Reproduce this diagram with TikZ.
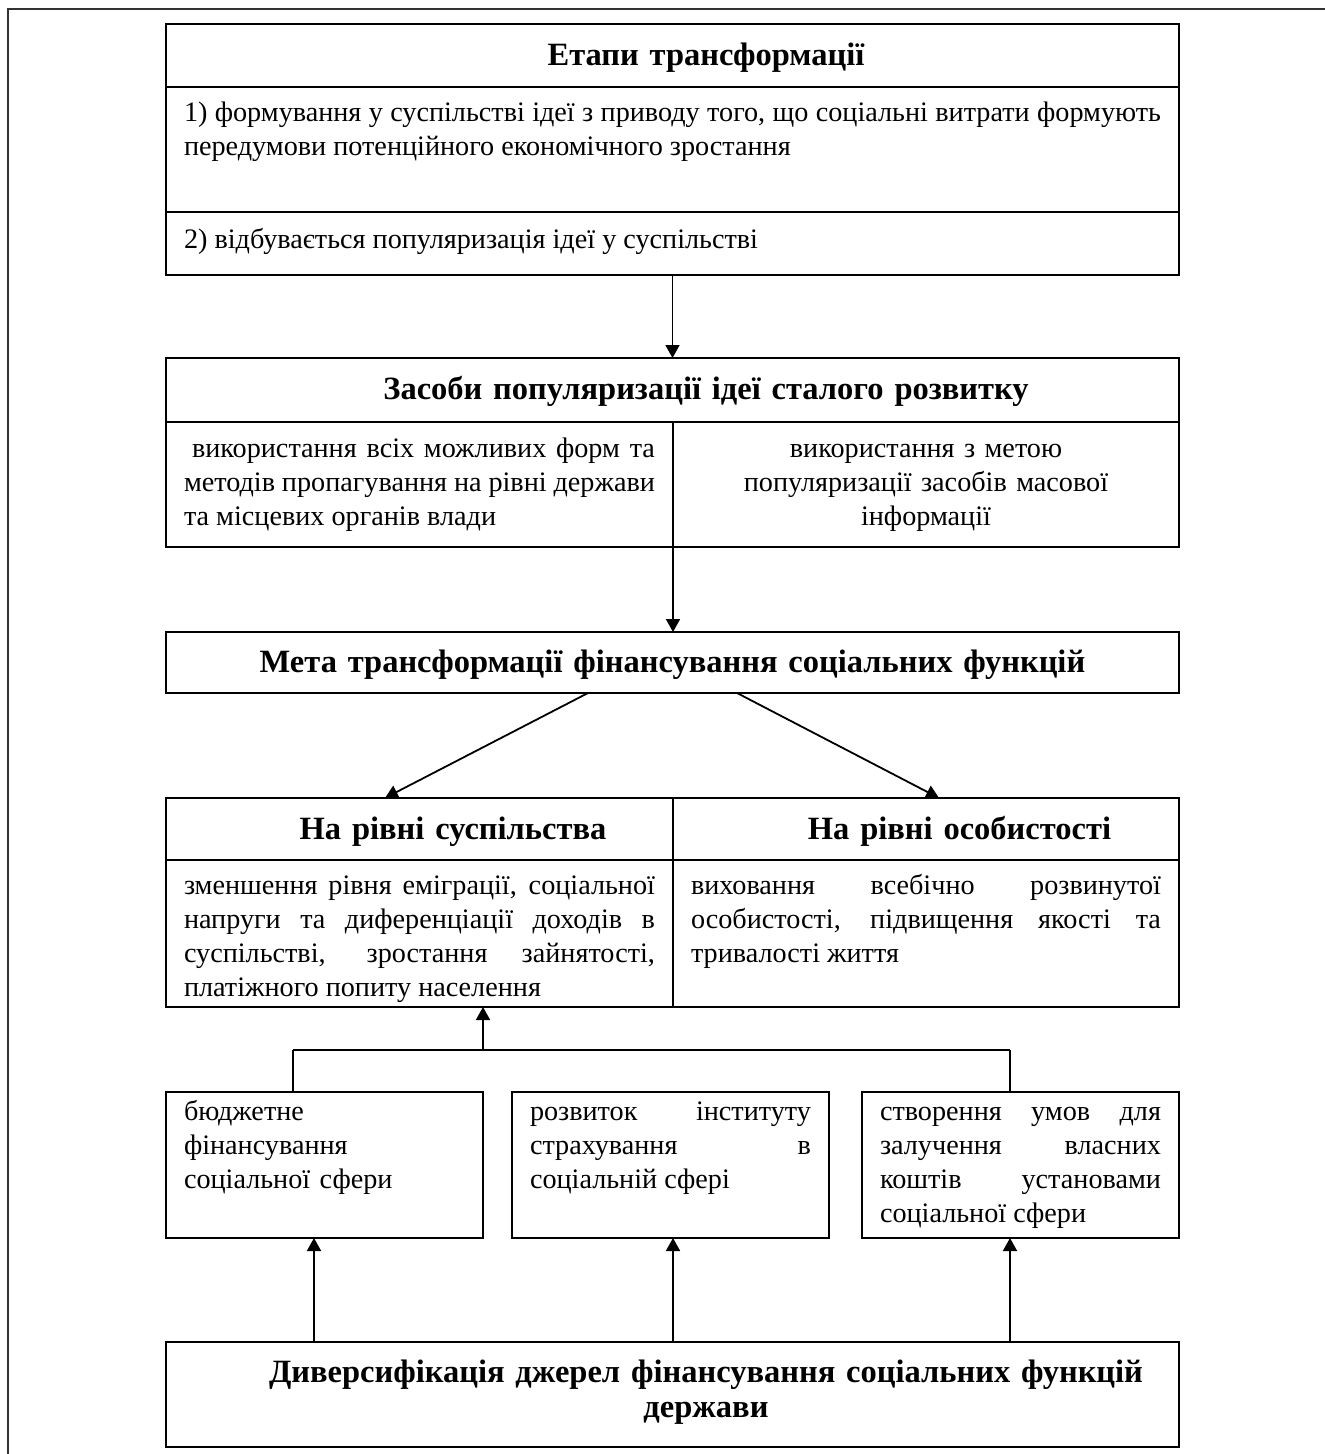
\documentclass[tikz,border=0pt]{standalone}
\usepackage{fontspec}
\setmainfont{Liberation Serif}
\usepackage{tikz}
\usetikzlibrary{arrows.meta}
\usetikzlibrary{calc}
\usetikzlibrary{positioning}
\tikzstyle{cell}=[draw=black, line width=1.8pt, anchor=north west, inner xsep=18pt, inner ysep=0pt, outer sep=0pt, font=\fontsize{28.2pt}{34pt}\selectfont, align=justify]
\tikzstyle{head}=[cell, font=\fontsize{32.5pt}{35pt}\selectfont\bfseries, align=center]
\tikzstyle{tran}=[draw, line width=1.8pt, -{Triangle[length=13pt, width=14pt]}]
\tikzstyle{line}=[draw, line width=1.8pt]
\tikzstyle{frame}=[draw=black!80, line width=2.5pt]
\newcommand{\ind}{\hspace*{67pt}}

\begin{document}
\begin{tikzpicture}[x=1pt, y=-1pt]
\useasboundingbox (0,0) rectangle (1325,1454);

\draw[frame] (8,1454) -- (8,9) -- (1325,9);

% stages
\node[head, text width=977pt, text height=41pt, text depth=22pt] (etaphead) at (166,24) {\ind Етапи трансформації};
\node[cell, text width=977pt, text height=34pt, text depth=91pt] (etap1) at (166,87)
{1) формування у суспільстві ідеї з приводу того, що соціальні витрати формують\linebreak передумови потенційного економічного зростання};
\node[cell, text width=977pt, text height=36pt, text depth=27pt] (etap2) at (166,212)
{2) відбувається популяризація ідеї у суспільстві};

% means
\node[head, text width=977pt, text height=41pt, text depth=23pt] (zashead) at (166,358) {\ind Засоби популяризації ідеї сталого розвитку};
\node[cell, text width=471pt, text height=35pt, text depth=90pt] (zasL) at (166,422)
{\hspace*{8pt}використання всіх можливих форм та\linebreak методів пропагування на рівні держави\linebreak та місцевих органів влади};
\node[cell, text width=470pt, text height=35pt, text depth=90pt, align=center] (zasR) at (673,422)
{використання з метою\\ популяризації засобів масової\\ інформації};

% goal
\node[head, text width=977pt, text height=40pt, text depth=21pt] (meta) at (166,632) {Мета трансформації фінансування соціальних функцій};

% levels
\node[head, text width=471pt, text height=41pt, text depth=21pt] (sushead) at (166,798) {\ind На рівні суспільства};
\node[head, text width=470pt, text height=41pt, text depth=21pt] (osobhead) at (673,798) {\ind На рівні особистості};
\node[cell, text width=471pt, text height=34pt, text depth=113pt] (susbody) at (166,860)
{зменшення рівня еміграції, соціальної\linebreak напруги та диференціації доходів в\linebreak суспільстві, зростання зайнятості,\linebreak платіжного попиту населення};
\node[cell, text width=470pt, text height=34pt, text depth=113pt] (osobbody) at (673,860)
{виховання всебічно розвинутої\linebreak особистості, підвищення якості та\linebreak тривалості життя};

% sources
\node[cell, text width=281pt, text height=28pt, text depth=118pt, align=left] (bud) at (166,1092)
{бюджетне\\ фінансування\\ соціальної сфери};
\node[cell, text width=281pt, text height=28pt, text depth=118pt] (strakh) at (512,1092)
{розвиток інституту\linebreak страхування в\linebreak соціальній сфері};
\node[cell, text width=281pt, text height=28pt, text depth=118pt] (kosht) at (862,1092)
{створення умов для\linebreak залучення власних\linebreak коштів установами\linebreak соціальної сфери};

\node[head, text width=977pt, text height=40pt, text depth=65pt] (dyv) at (166,1342)
{\ind Диверсифікація джерел фінансування соціальних функцій\\ \ind держави};

\draw[tran] (etap2.south) -- (zashead.north);
\draw[tran] (zasR.south west) -- (zasR.south west |- meta.north);
\draw[tran] ($(meta.south west)+(422,0)$) -- ($(sushead.north west)+(219,0)$);
\draw[tran] ($(meta.south west)+(571,0)$) -- ($(osobhead.north west)+(266,0)$);

\coordinate (busL) at (293,1050);
\coordinate (busR) at (1010,1050);
\draw[line] (busL) -- (busR);
\draw[line] (busL) -- (busL |- bud.north);
\draw[line] ($(strakh.north west)+(161,0)$ |- busL) -- ($(strakh.north west)+(161,0)$);
\draw[line] (busR) -- (busR |- kosht.north);
\draw[tran] (busL -| bud.north east) -- (bud.north east |- susbody.south);

\draw[tran] ($(dyv.north west)+(148,0)$) -- ($(bud.south west)+(148,0)$);
\draw[tran] ($(dyv.north west)+(507,0)$) -- ($(strakh.south west)+(161,0)$);
\draw[tran] (busR |- dyv.north) -- (busR |- kosht.south);

\end{tikzpicture}
\end{document}
